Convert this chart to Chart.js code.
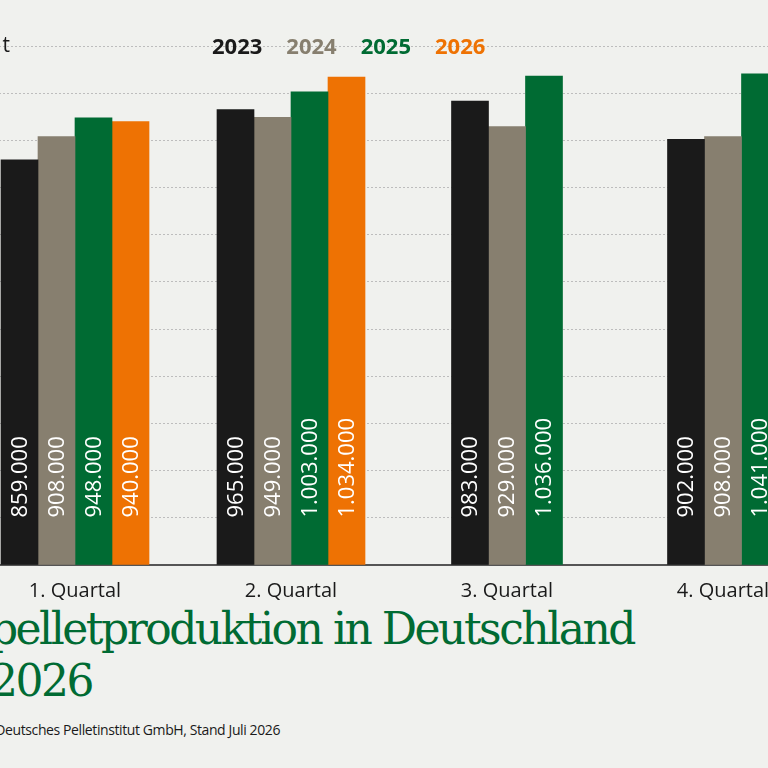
<!DOCTYPE html>
<html><head><meta charset="utf-8">
<script src="https://cdn.jsdelivr.net/npm/chart.js@4"></script>
<style>
html,body{margin:0;padding:0;width:768px;height:768px;overflow:hidden;background:#f0f1ee;font-family:"Open Sans",sans-serif;}
#wrap{position:absolute;left:-33px;top:0;width:864px;height:600px;}
.t{position:absolute;white-space:nowrap;}
.lg span{margin-right:24px;}
</style></head><body>
<div id="wrap"><canvas id="c" width="864" height="600"></canvas></div>
<div class="t" style="right:758px;top:30px;font-size:21px;color:#1a1a1a;">Menge in t</div>
<div class="t lg" style="left:212px;top:30px;font-size:22px;font-weight:bold;">
<span style="color:#1a1a1a">2023</span><span style="color:#877f6f">2024</span><span style="color:#006b33">2025</span><span style="color:#ee7203">2026</span></div>
<div class="t" style="right:134px;top:603px;font-size:44px;color:#006b33;font-family:'DejaVu Serif',serif;letter-spacing:-2.5px;">Holzpelletproduktion in Deutschland</div>
<div class="t" style="right:676px;top:655px;font-size:44px;color:#006b33;font-family:'DejaVu Serif',serif;letter-spacing:-2.5px;">2023 bis 2026</div>
<div class="t" style="right:488px;top:720px;font-size:14px;color:#1a1a1a;letter-spacing:-0.4px;">Quelle: Deutsches Pelletinstitut GmbH, Stand Juli 2026</div>
<script>
const categories=["1. Quartal","2. Quartal","3. Quartal","4. Quartal"];
const years=["2023","2024","2025","2026"];
const v2023=[859000,965000,983000,902000];
const v2024=[908000,949000,929000,908000];
const v2025=[948000,1003000,1036000,1041000];
const v2026=[940000,1034000,null,null];
const colors=["#1a1a1a","#877f6f","#006b33","#ee7203"];
const series=[v2023,v2024,v2025,v2026];
const fmt=n=>n.toLocaleString('de-DE');
const labelPlugin={id:'vl',afterDatasetsDraw(chart){
 const ctx=chart.ctx;
 chart.data.datasets.forEach((ds,i)=>{
  chart.getDatasetMeta(i).data.forEach((bar,j)=>{
   const v=ds.data[j]; if(v==null) return;
   ctx.save();ctx.translate(bar.x,bar.base-47);ctx.rotate(-Math.PI/2);
   ctx.font='22px "Open Sans"';ctx.fillStyle='#ffffff';ctx.textAlign='left';ctx.textBaseline='middle';
   ctx.fillText(fmt(v),0,1);ctx.restore();
  });
 });
}};
new Chart(document.getElementById('c'),{
 type:'bar',
 data:{labels:categories,datasets:series.map((d,i)=>({label:years[i],data:d,backgroundColor:colors[i],borderWidth:0,barThickness:37}))},
 options:{responsive:false,animation:false,skipNull:true,
  layout:{padding:{top:46,left:0,right:0,bottom:0}},
  plugins:{legend:{display:false},tooltip:{enabled:false}},
  scales:{
   x:{grid:{display:false},border:{display:true,color:'#555',width:2},
      ticks:{color:'#1a1a1a',font:{size:20,family:'Open Sans'},padding:6},
      afterFit(s){s.height=35;}},
   y:{min:0,max:1100000,ticks:{display:false,stepSize:100000},
      grid:{color:'#bdbdbd',lineWidth:1,drawTicks:false},border:{display:false,dash:[2,2]},
      afterFit(s){s.width=0;}}
  }},
 plugins:[labelPlugin]
});
</script></body></html>
